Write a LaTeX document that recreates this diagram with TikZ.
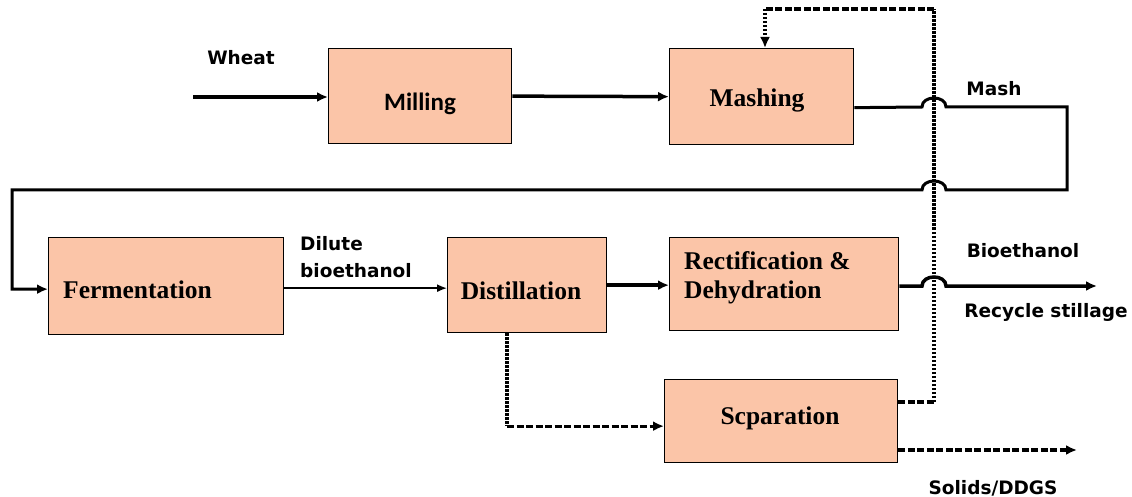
\documentclass[tikz,border=0pt]{standalone}
\usepackage{fontspec}
\setmainfont{Liberation Serif}
\newfontfamily\lblfont{DejaVu Sans}
\newfontfamily\calfont{Carlito}
\usetikzlibrary{arrows.meta}
\definecolor{peach}{RGB}{251,197,168}

\begin{document}
\begin{tikzpicture}[x=1pt,y=-1pt,
  proc/.style={draw=black, line width=1.3pt, fill=peach, anchor=north west, inner sep=0pt},
  ptext/.style={font=\fontsize{25.5}{30}\selectfont\bfseries, inner sep=0pt},
  ctext/.style={font=\calfont\fontsize{25}{30}\selectfont\bfseries, inner sep=0pt},
  lbl/.style={font=\lblfont\fontsize{18.5}{27}\selectfont\bfseries, inner sep=0pt},
  tip/.style={-{Latex[length=11pt,width=10pt]}},
  flow/.style={line width=3.5pt, tip},
  thinflow/.style={line width=1.6pt, -{Latex[length=10pt,width=8pt]}},
  dashh/.style={line width=3.3pt, dash pattern=on 7pt off 2.5pt},
  dashv/.style={line width=3.4pt, dash pattern=on 2.5pt off 1.5pt},
]
\useasboundingbox (0,0) rectangle (1132,497);

% process boxes
\node[proc, minimum width=183pt, minimum height=95pt] (mill) at (328,48) {};
\node[proc, minimum width=184pt, minimum height=96pt] (mash) at (669,48) {};
\node[proc, minimum width=235pt, minimum height=97pt] (ferm) at (48,237) {};
\node[proc, minimum width=159pt, minimum height=95pt] (dist) at (447,237) {};
\node[proc, minimum width=229pt, minimum height=93pt] (rect) at (669,237) {};
\node[proc, minimum width=233pt, minimum height=83pt] (sep) at (664,379) {};

% box captions
\node[ctext] (milltxt) at (420,104) {Milling};
\node[ptext] (mashtxt) at (757,100) {Mashing};
\node[ptext, anchor=base west] (fermtxt) at (63,298) {Fermentation};
\node[ptext] (disttxt) at (521,291) {Distillation};
\node[ptext, anchor=base west] (recttxt) at (684,269) {Rectification \&};
\node[ptext, anchor=base west] (dehytxt) at (684,298) {Dehydration};
\node[ptext] (septxt) at (780,418) {Scparation};

% stream labels
\node[lbl] (wheat) at (241,58) {Wheat};
\node[lbl] (mashlbl) at (994,89) {Mash};
\node[lbl, anchor=base west] (dilute) at (300,250) {Dilute};
\node[lbl, anchor=base west] (dilute2) at (300,277) {bioethanol};
\node[lbl] (bioeth) at (1023,251) {Bioethanol};
\node[lbl] (recyc) at (1046,312) {Recycle stillage};
\node[lbl] (solids) at (993,488) {Solids/DDGS};

% free ends and corners
\coordinate (wheatin) at (193,97);
\coordinate (mashturn) at (1067,107);
\coordinate (loopL) at (12,190);
\coordinate (bioend) at (1097,286);
\coordinate (solend) at (1077,450);
\coordinate (fbbot) at (934,402);
\coordinate (fbtop) at (934,9);
\coordinate (fbleft) at (765,9);
\path ([xshift=-20pt]dist.south) coordinate (dtop);
\path ([yshift=-5pt]sep.west) coordinate (sin);
\coordinate (dcorner) at (dtop |- sin);

% main solid flow
\draw[flow] (wheatin) -- (wheatin -| mill.west);
\draw[flow] (mill.east) -- (mash.west);
\draw[line width=3pt, tip] ([yshift=-11pt]mash.east) -- (922,107)
  .. controls (922,95) and (946,95) .. (946,107) -- (mashturn) -- (1067,190)
  -- (946,190) .. controls (946,178) and (922,178) .. (922,190)
  -- (loopL) |- ([yshift=-3pt]ferm.west);
\draw[thinflow] ([yshift=-2pt]ferm.east) -- ([yshift=-2pt]ferm.east -| dist.west);
\draw[flow] (dist.east) -- (dist.east -| rect.west);
\draw[flow] (rect.east |- bioend) -- (922,286)
  .. controls (922,274) and (946,274) .. (946,286) -- (bioend);

% stillage streams
\draw[dashv] (dtop) -- (dcorner);
\draw[dashh, tip] (dcorner) -- (sin);
\draw[dashh, tip] (sep.east |- solend) -- (solend);
\draw[dashh] (sep.east |- fbbot) -- (fbbot);
\draw[dashv] (fbbot) -- (fbtop);
\draw[dashh] (fbtop) -- (fbleft);
\draw[dashv, tip] (fbleft) -- (fbleft |- mash.north);
\end{tikzpicture}
\end{document}
